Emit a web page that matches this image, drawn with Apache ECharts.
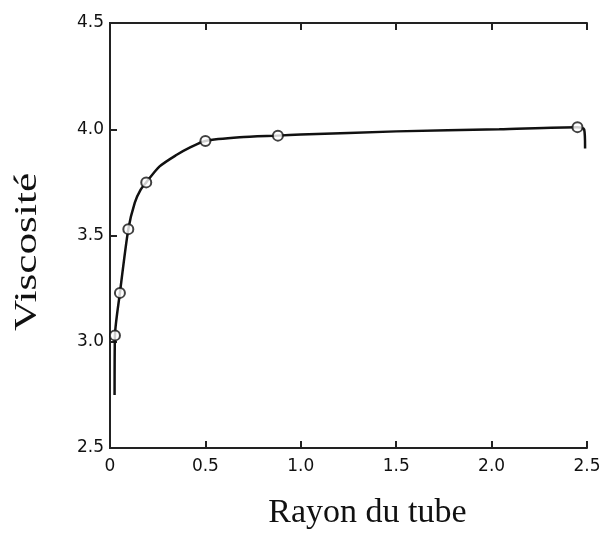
<!DOCTYPE html>
<html>
<head>
<meta charset="utf-8">
<script src="https://cdn.jsdelivr.net/npm/echarts@6/dist/echarts.min.js"></script>
<style>
  html, body { margin: 0; padding: 0; background: #fff; }
  #main { width: 605px; height: 535px; }
</style>
</head>
<body>
<div id="main"></div>
<script>
// measured points (rayon, viscosité)
var pointX = [0.026, 0.052, 0.096, 0.19, 0.5, 0.88, 2.45];
var pointY = [3.03, 3.23, 3.53, 3.75, 3.945, 3.97, 4.01];

// hand-drawn curve through the points
var curveX = [0.024, 0.026, 0.052, 0.096, 0.13, 0.16, 0.19, 0.26, 0.35, 0.42, 0.5, 0.68, 0.88, 1.0, 1.5, 2.04, 2.45, 2.485, 2.49];
var curveY = [2.75, 3.03, 3.23, 3.53, 3.655, 3.715, 3.75, 3.825, 3.88, 3.915, 3.945, 3.962, 3.97, 3.975, 3.99, 4.0, 4.01, 4.0, 3.91];

var xTicks = [0, 0.5, 1.0, 1.5, 2.0, 2.5];
var yTicks = [2.5, 3.0, 3.5, 4.0, 4.5];

var chartDom = document.getElementById("main");
var myChart = echarts.init(chartDom);

function zip(a, b) {
  return a.map(function (v, i) { return [v, b[i]]; });
}

var labelFont = {
  color: "#111",
  fontFamily: "DejaVu Sans",
  fontSize: 17,
};

var option = {
  animation: false,
  backgroundColor: "#fff",
  grid: { left: 110, top: 23, right: 18, bottom: 86 },
  // y title is stretched along its length in the scan
  graphic: [
    {
      type: "text",
      x: 28,
      y: 252,
      rotation: Math.PI / 2,
      scaleX: 1.35,
      style: {
        text: "Viscosité",
        fontFamily: "Liberation Serif",
        fontSize: 32,
        fill: "#111",
        align: "center",
        verticalAlign: "middle",
      },
    },
  ],
  xAxis: [
    {
      type: "value",
      min: 0,
      max: 2.5,
      interval: 0.5,
      name: "Rayon du tube",
      nameLocation: "middle",
      nameGap: 48,
      nameTextStyle: { fontFamily: "Liberation Serif", fontSize: 34, color: "#111", padding: [0, 0, 0, 38] },
      axisLine: { show: true, lineStyle: { color: "#222", width: 2 } },
      axisTick: { show: true, inside: true, length: 7, lineStyle: { color: "#222", width: 2 } },
      axisLabel: Object.assign({
        margin: 10,
        formatter: function (v) { return v === 0 ? "0" : v.toFixed(1); },
      }, labelFont),
      splitLine: { show: false },
    },
    {
      type: "value",
      position: "top",
      min: 0,
      max: 2.5,
      interval: 0.5,
      axisLine: { show: true, lineStyle: { color: "#222", width: 2 } },
      axisTick: { show: true, inside: true, length: 7, lineStyle: { color: "#222", width: 2 } },
      axisLabel: { show: false },
      splitLine: { show: false },
    },
  ],
  yAxis: [
    {
      type: "value",
      min: 2.5,
      max: 4.5,
      interval: 0.5,
      axisLine: { show: true, lineStyle: { color: "#222", width: 2 } },
      axisTick: { show: true, inside: true, length: 7, lineStyle: { color: "#222", width: 2 } },
      axisLabel: Object.assign({
        margin: 6,
        formatter: function (v) { return v.toFixed(1); },
      }, labelFont),
      splitLine: { show: false },
    },
    {
      type: "value",
      position: "right",
      min: 2.5,
      max: 4.5,
      axisLine: { show: true, lineStyle: { color: "#222", width: 2 } },
      axisTick: { show: false },
      axisLabel: { show: false },
      splitLine: { show: false },
    },
  ],
  series: [
    {
      type: "line",
      data: zip(curveX, curveY),
      smooth: 0.25,
      symbol: "none",
      lineStyle: { color: "#111", width: 2.5 },
      z: 2,
    },
    {
      type: "scatter",
      data: zip(pointX, pointY),
      symbol: "circle",
      symbolSize: 10,
      itemStyle: { color: "#fff", borderColor: "#111", borderWidth: 2 },
      z: 3,
    },
  ],
};

option && myChart.setOption(option);
</script>
</body>
</html>
